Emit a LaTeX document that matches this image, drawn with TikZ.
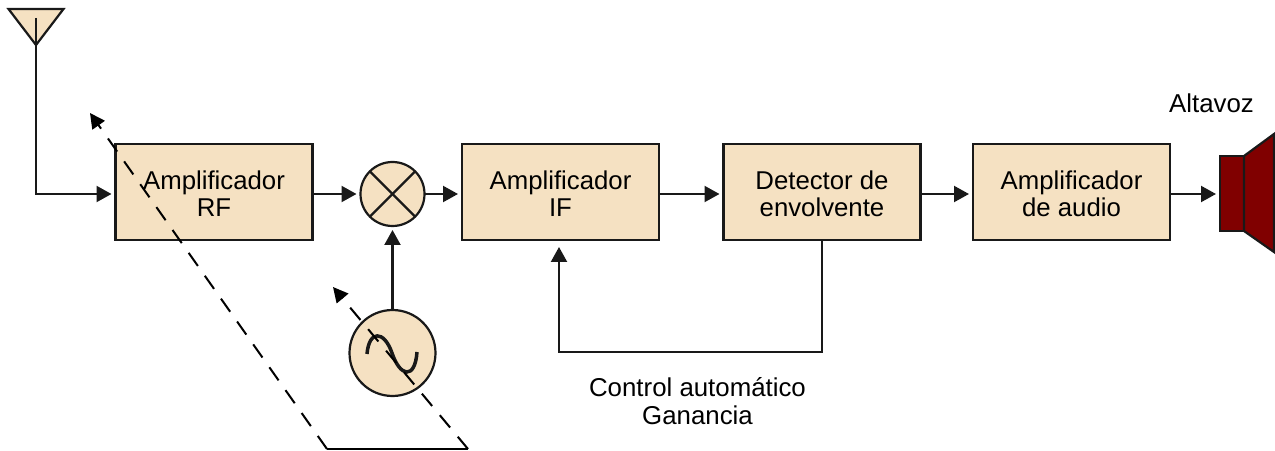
\documentclass[tikz,border=0pt]{standalone}
\usepackage{fontspec}
\setmainfont{Liberation Sans}
\usetikzlibrary{arrows.meta}
\definecolor{crema}{RGB}{245,225,194}
\definecolor{granate}{RGB}{128,0,0}
\tikzset{
  bloque/.style={draw=black!90,line width=.022cm,fill=crema,minimum width=1.97cm,minimum height=.96cm,outer sep=0pt,inner sep=0pt,align=center,font=\fontsize{7.33}{7.7}\selectfont,text height=14.2pt,text depth=0pt},
  rueda/.style={circle,draw=black!90,line width=.022cm,fill=crema,outer sep=0pt,inner sep=0pt},
  flecha/.style={line width=.022cm,draw=black!90,-{Triangle[length=.15cm,width=.16cm]},shorten >=.04cm},
  rotulo/.style={align=center,font=\fontsize{7.35}{7.9}\selectfont},
  guia/.style={line width=.02cm,dash pattern=on .16cm off .12cm,-{Triangle[length=.15cm,width=.15cm]}}
}
\begin{document}
\begin{tikzpicture}
        \useasboundingbox (0,0) rectangle (12.75,4.5);
        \node[bloque] (rf) at (2.14,2.58) {Amplificador\\RF};
        \node[bloque] (if) at (5.605,2.58) {Amplificador\\IF};
        \node[bloque] (det) at (8.22,2.58) {Detector de\\envolvente};
        \node[bloque] (aud) at (10.715,2.58) {Amplificador\\de audio};
        \node[rueda,minimum size=.64cm] (mez) at (3.925,2.56) {}; % mezclador
        \node[rueda,minimum size=.86cm] (osc) at (3.925,.97) {}; % oscilador
        \node[rotulo] (cag) at (6.975,.49) {Control automático\\Ganancia};
        \node[rotulo] (alt) at (12.115,3.47) {Altavoz};
        % antena
        \coordinate (ant) at (.36,2.56);
        \draw[fill=crema,line width=.022cm,draw=black!90] (.085,4.41) -- (.635,4.41) -- (.36,4.05) -- cycle;
        \draw[line width=.022cm,draw=black!90] (.36,4.32) -- (.36,4.05);
        \draw[flecha] (.36,4.05) |- (rf.west|-ant);
        % altavoz
        \node[draw=black!90,line width=.022cm,fill=granate,minimum width=.24cm,minimum height=.75cm,outer sep=0pt,inner sep=0pt] (cono) at (12.32,2.565) {};
        \draw[draw=black!90,line width=.022cm,fill=granate] (cono.north east) -- (12.74,3.16) -- (12.74,1.98) -- (cono.south east) -- cycle;
        % cruz del mezclador
        \foreach \a/\b in {45/225,135/315} \draw[line width=.022cm,draw=black!90] (mez.\a) -- (mez.\b);
        % flechas
        \draw[flecha] (rf.east|-mez) -- (mez.west);
        \draw[flecha] (mez.east) -- (if.west|-mez);
        \draw[flecha] (osc.north) -- (mez.south);
        \foreach \a/\b in {if/det,det/aud,aud/cono} \draw[flecha] (\a.east|-mez) -- (\b.west|-mez);
        \coordinate (ret) at (6.9,.98);
        \draw[flecha,shorten >=.07cm] (det.south) |- (ret) -| ([xshift=-.015cm]if.south);
        % senoide
        \draw[line width=.035cm,draw=black!90] (3.67,.96) .. controls (3.69,1.2) and (3.84,1.2) .. (3.92,.97) .. controls (4.0,.73) and (4.15,.7) .. (4.17,.98);
        % guias discontinuas
        \coordinate (a1) at (.9,3.37);
        \coordinate (a2) at (3.33,1.63);
        \coordinate (b1) at (3.27,.01);
        \coordinate (b2) at (4.68,.01);
        \draw[line width=.022cm] (b1) -- (b2);
        \draw[guia] (b1) -- (a1);
        \draw[guia] (b2) -- (a2);
\end{tikzpicture}
\end{document}
